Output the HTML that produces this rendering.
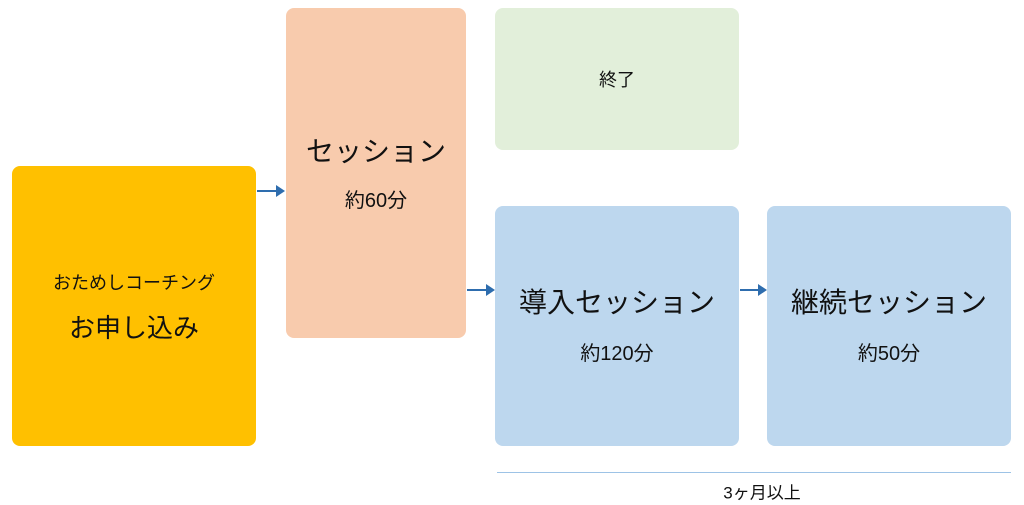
<!DOCTYPE html>
<html><head><meta charset="utf-8"><style>
body{margin:0;width:1024px;height:505px;background:#fff;position:relative;overflow:hidden;font-family:"Liberation Sans","Noto Sans CJK JP",sans-serif;color:#111}
.b{position:absolute;border-radius:8px}
.t{position:absolute;white-space:nowrap;transform:translate(-50%,-50%);line-height:1}
.a{position:absolute;height:2px;background:#2E6DAE}
.a:after{content:"";position:absolute;right:-2px;top:-5px;border-left:9px solid #2E6DAE;border-top:6px solid transparent;border-bottom:6px solid transparent}
</style></head><body>
<div class="b" style="left:12px;top:166px;width:244px;height:280px;background:#FFC000"></div>
<div class="b" style="left:286px;top:8px;width:180px;height:330px;background:#F8CBAD"></div>
<div class="b" style="left:495px;top:8px;width:244px;height:142px;background:#E2EFDA"></div>
<div class="b" style="left:495px;top:206px;width:244px;height:240px;background:#BDD7EE"></div>
<div class="b" style="left:767px;top:206px;width:244px;height:240px;background:#BDD7EE"></div>
<div class="a" style="left:257px;top:190px;width:26px"></div>
<div class="a" style="left:467px;top:289px;width:26px"></div>
<div class="a" style="left:740px;top:289px;width:25px"></div>
<div style="position:absolute;left:497px;top:472px;width:514px;height:1px;background:#9DC3E6"></div>
<div class="t" style="left:134px;top:283px;font-size:18px">おためしコーチング</div>
<div class="t" style="left:134px;top:328px;font-size:26px">お申し込み</div>
<div class="t" style="left:376px;top:152px;font-size:28px">セッション</div>
<div class="t" style="left:376px;top:201px;font-size:20px">約60分</div>
<div class="t" style="left:617px;top:80px;font-size:18px">終了</div>
<div class="t" style="left:617px;top:303px;font-size:28px">導入セッション</div>
<div class="t" style="left:617px;top:354px;font-size:20px">約120分</div>
<div class="t" style="left:889px;top:303px;font-size:28px">継続セッション</div>
<div class="t" style="left:889px;top:354px;font-size:20px">約50分</div>
<div class="t" style="left:762px;top:493px;font-size:17px">3ヶ月以上</div>
</body></html>
